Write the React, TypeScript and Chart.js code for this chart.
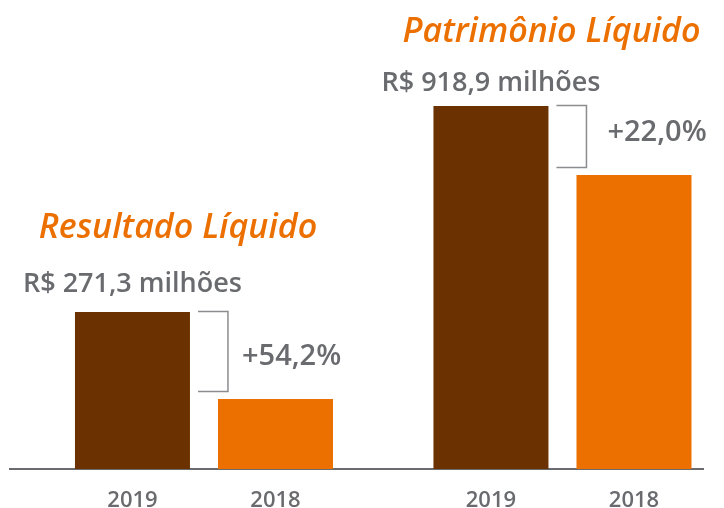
import React, { useEffect, useRef } from "react";
import { Chart, registerables } from "chart.js";

Chart.register(...registerables);

// ---- data (bar heights, in drawing units) ----
const groups = ["Resultado Líquido", "Patrimônio Líquido"];
const years = ["2019", "2018"];
const heights2019 = [157, 363];
const heights2018 = [70, 294];
const valueLabels = ["R$ 271,3 milhões", "R$ 918,9 milhões"];
const changeLabels = ["+54,2%", "+22,0%"];

// ---- styling / layout of annotations (relative to the bars) ----
const BROWN = "#6b3100";
const ORANGE = "#ec7000";
const GRAY = "#6a6b6f";
const BRACKET = "#8c8c90";
const FONT = "'Open Sans', sans-serif";
const annot = [
  { titleDx: -26, titleDy: -74, labelDy: -20, pctDx: 14, pctDy: -34 },
  { titleDx: -11, titleDy: -64, labelDy: -15, pctDx: 21, pctDy: -34 },
];

const annotationPlugin = {
  id: "annotations",
  afterDatasetsDraw(chart: any) {
    const ctx = chart.ctx;
    const m0 = chart.getDatasetMeta(0).data;
    const m1 = chart.getDatasetMeta(1).data;
    const bottom = chart.chartArea.bottom;
    ctx.save();
    // year labels
    ctx.fillStyle = GRAY;
    ctx.font = `600 22px ${FONT}`;
    ctx.textAlign = "center";
    ctx.textBaseline = "alphabetic";
    [m0, m1].forEach((els: any[], d: number) => {
      els.forEach((el: any) => {
        ctx.fillText(years[d], el.x, bottom + 38);
      });
    });
    groups.forEach((g, i) => {
      const a = m0[i];
      const b = m1[i];
      const o = annot[i];
      const aRight = a.x + a.width / 2;
      const groupCenter = (a.x + b.x) / 2;
      // title
      ctx.fillStyle = ORANGE;
      ctx.font = `italic 600 34px ${FONT}`;
      ctx.textAlign = "center";
      ctx.fillText(g, groupCenter + o.titleDx, a.y + o.titleDy);
      // value label
      ctx.fillStyle = GRAY;
      ctx.font = `600 27px ${FONT}`;
      ctx.fillText(valueLabels[i], a.x, a.y + o.labelDy);
      // bracket
      ctx.strokeStyle = BRACKET;
      ctx.lineWidth = 1.5;
      const x1 = aRight + 8;
      const x2 = aRight + 38;
      const y1 = a.y - 0.5;
      const y2 = b.y - 7.5;
      ctx.beginPath();
      ctx.moveTo(x1, y1);
      ctx.lineTo(x2, y1);
      ctx.lineTo(x2, y2);
      ctx.lineTo(x1, y2);
      ctx.stroke();
      // percent change
      ctx.fillStyle = GRAY;
      ctx.font = `600 29px ${FONT}`;
      ctx.textAlign = "left";
      ctx.fillText(changeLabels[i], x2 + o.pctDx, b.y + o.pctDy);
    });
    ctx.restore();
  },
};

export default function App() {
  const ref = useRef<HTMLCanvasElement>(null);
  useEffect(() => {
    if (!ref.current) return;
    const chart = new Chart(ref.current, {
      type: "bar",
      data: {
        datasets: [
          {
            label: years[0],
            data: heights2019.map((v, i) => ({ x: i, y: v })),
            backgroundColor: BROWN,
          },
          {
            label: years[1],
            data: heights2018.map((v, i) => ({ x: i, y: v })),
            backgroundColor: ORANGE,
          },
        ],
      },
      options: {
        animation: false,
        responsive: true,
        maintainAspectRatio: false,
        categoryPercentage: 0.798,
        barPercentage: 0.804,
        layout: { padding: { left: 10, right: 21, top: 0, bottom: 39 } },
        plugins: { legend: { display: false }, tooltip: { enabled: false }, title: { display: false } },
        scales: {
          x: {
            type: "linear",
            min: -0.5411,
            max: 1.392,
            offset: false,
            z: 1,
            afterBuildTicks: (s: any) => {
              s.ticks = groups.map((_, i) => ({ value: i }));
            },
            afterFit: (s: any) => {
              s.height = 0;
            },
            ticks: { display: false },
            grid: { display: false, offset: false },
            border: { display: true, color: GRAY, width: 2 },
          },
          y: { display: false, min: 0, max: 469 },
        },
      } as any,
      plugins: [annotationPlugin],
    });
    return () => chart.destroy();
  }, []);
  return (
    <div style={{ position: "absolute", left: 0, top: 0, width: 724, height: 508, background: "#fff" }}>
      <canvas ref={ref} />
    </div>
  );
}
